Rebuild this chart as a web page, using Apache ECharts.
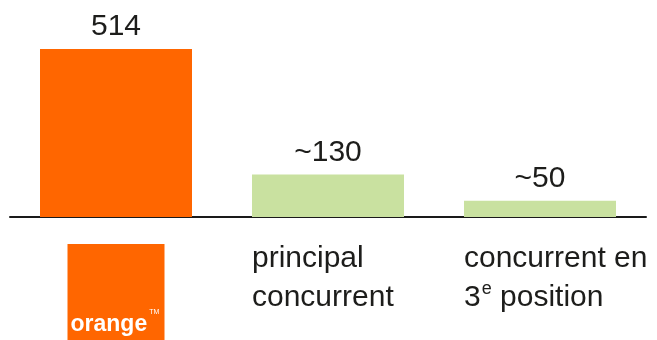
<!DOCTYPE html>
<html>
<head>
<meta charset="utf-8">
<title>Clients</title>
<script src="https://cdn.jsdelivr.net/npm/echarts@6/dist/echarts.min.js"></script>
<style>
  html, body { margin: 0; padding: 0; background: #ffffff; }
  #chart { width: 657px; height: 340px; }
</style>
</head>
<body>
<div id="chart"></div>
<script>
// Operators compared
const categories = ['orange', 'principal concurrent', 'concurrent en 3e position'];
// Values per operator
const values = [514, 130, 50];
// Text shown above each bar
const valueLabels = ['514', '~130', '~50'];

const FONT = '"Liberation Sans", Arial, Helvetica, sans-serif';
const TEXT = '#1d1d1b';
const barColors = ['#ff6600', '#c9e1a0', '#c9e1a0'];

// Category labels: the first one is the brand logo, the others are two-line captions
const labelFormats = [
  '{logo|orange}{tm|TM}',
  '{a|principal}\n{b|concurrent}',
  '{a|concurrent en}\n{b|3}{sup|e}{b| position}'
];

const chart = echarts.init(document.getElementById('chart'), null, { renderer: 'canvas' });

chart.setOption({
  animation: false,
  backgroundColor: '#ffffff',
  grid: { left: 10, right: 11, top: 49, bottom: 122, containLabel: false },
  xAxis: {
    type: 'category',
    data: categories.map((c, i) => i === 0
      ? { value: c, textStyle: { backgroundColor: '#ff6600', width: 91, padding: [62, 3, 4, 3] } }
      : { value: c, textStyle: { width: 152 } }),
    axisLine: { show: true, lineStyle: { color: '#1a1a1a', width: 2 } },
    axisTick: { show: false },
    axisLabel: {
      interval: 0,
      margin: 27,
      overflow: 'none',
      fontFamily: FONT,
      color: TEXT,
      formatter: (v, i) => labelFormats[i],
      rich: {
        logo: { fontSize: 23, fontWeight: 'bold', color: '#ffffff', fontFamily: FONT, lineHeight: 23, verticalAlign: 'bottom', align: 'left' },
        tm: { fontSize: 7, color: '#ffffff', fontFamily: FONT, lineHeight: 30, verticalAlign: 'top', align: 'left', padding: [3, 0, 0, 2] },
        a: { fontSize: 30, color: TEXT, fontFamily: FONT, lineHeight: 30, verticalAlign: 'middle', align: 'left' },
        b: { fontSize: 30, color: TEXT, fontFamily: FONT, lineHeight: 48, verticalAlign: 'middle', align: 'left' },
        sup: { fontSize: 18, color: TEXT, fontFamily: FONT, lineHeight: 24, verticalAlign: 'top', align: 'left', padding: [6, 0, 0, 1] }
      }
    }
  },
  yAxis: { type: 'value', min: 0, max: 514, show: false },
  series: [{
    type: 'bar',
    barWidth: 152,
    data: values.map((v, i) => ({ value: v, itemStyle: { color: barColors[i] } })),
    label: {
      show: true,
      position: 'top',
      distance: 7,
      fontSize: 30,
      fontFamily: FONT,
      color: TEXT,
      formatter: p => valueLabels[p.dataIndex]
    }
  }]
});
</script>
</body>
</html>
